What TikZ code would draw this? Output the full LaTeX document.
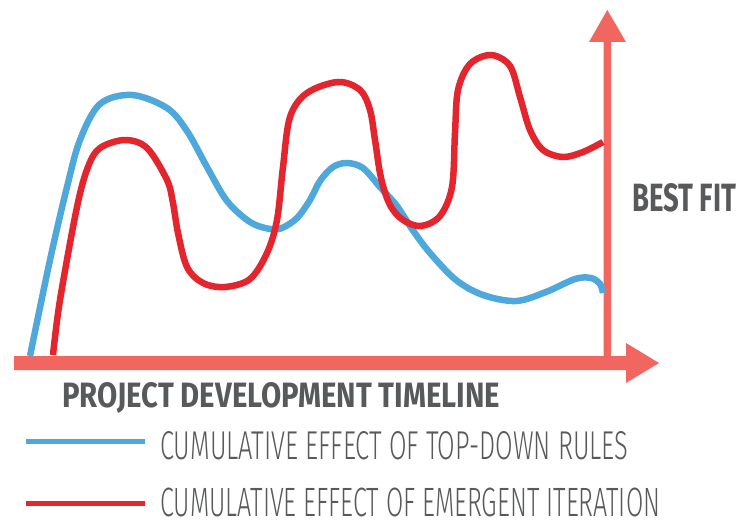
\documentclass[tikz,border=0pt]{standalone}
\usepackage{fontspec}
\setmainfont{Fira Sans}
\newfontfamily\lightf{Fira Sans Light}
\definecolor{axisc}{HTML}{F26660}
\definecolor{bluec}{HTML}{4FA8DC}
\definecolor{redc}{HTML}{E3262E}
\definecolor{txtc}{HTML}{58595B}
\begin{document}
\begin{tikzpicture}[x=1pt,y=-1pt,
  curve/.style={line width=6.5pt, smooth, tension=0.55},
  legline/.style={line width=5pt},
  lbl/.style={anchor=north west, inner sep=0pt, text=txtc}]
\useasboundingbox (0,0) rectangle (746,521);
% axes
\fill[axisc] (14,356) -- (626,356) -- (626,343) -- (659,363) -- (626,383) -- (626,370) -- (14,370) -- cycle;
\fill[axisc] (603.7,356) -- (603.7,42) -- (589,42) -- (607.3,10) -- (626,42) -- (611,42) -- (611,356) -- cycle;
% blue curve
\draw[bluec, curve] plot coordinates {(30,356) (50,260) (67,187) (80,140) (100,104) (132,95) (167,108) (187,131) (207,167) (227,201) (250,222) (270,229) (282,228) (297,218) (310,200) (320,181) (333,167) (347,163) (363,168) (380,187) (397,206) (412,229) (430,253) (456,280) (483,295) (516,301) (546,292) (575,279) (591,278) (600,284) (603,293)};
% red curve
\draw[redc, curve] plot coordinates {(53,355) (60,300) (77,207) (88,167) (100,148) (125,140) (147,148) (167,180) (173,203) (178,233) (187,267) (203,283) (225,287) (250,279) (267,253) (277,220) (283,167) (290,117) (307,93) (338,82) (360,90) (370,110) (375,140) (381,178) (390,205) (403,220) (421,226) (440,216) (452,187) (455,133) (458,90) (470,64) (491,55) (510,66) (520,97) (530,130) (543,150) (563,157) (583,152) (603,142)};
% legend
\coordinate (b1) at (26,441); \coordinate (b2) at (145,441);
\coordinate (r1) at (26,503); \coordinate (r2) at (145,503);
\draw[bluec, legline] (b1) -- (b2);
\draw[redc, legline] (r1) -- (r2);
% texts
\node[lbl] (best) at (632,183) {\resizebox{104pt}{28pt}{\fontsize{30}{30}\selectfont\bfseries BEST FIT}};
\node[lbl] (xlabel) at (62,382) {\resizebox{438pt}{25pt}{\fontsize{30}{30}\selectfont\bfseries PROJECT DEVELOPMENT TIMELINE}};
\node[lbl] (leg1) at (160,431) {\resizebox{468pt}{28pt}{\fontsize{30}{30}\selectfont\lightf CUMULATIVE EFFECT OF TOP-DOWN RULES}};
\node[lbl] (leg2) at (160,488) {\resizebox{500pt}{28.5pt}{\fontsize{30}{30}\selectfont\lightf CUMULATIVE EFFECT OF EMERGENT ITERATION}};
\end{tikzpicture}
\end{document}
